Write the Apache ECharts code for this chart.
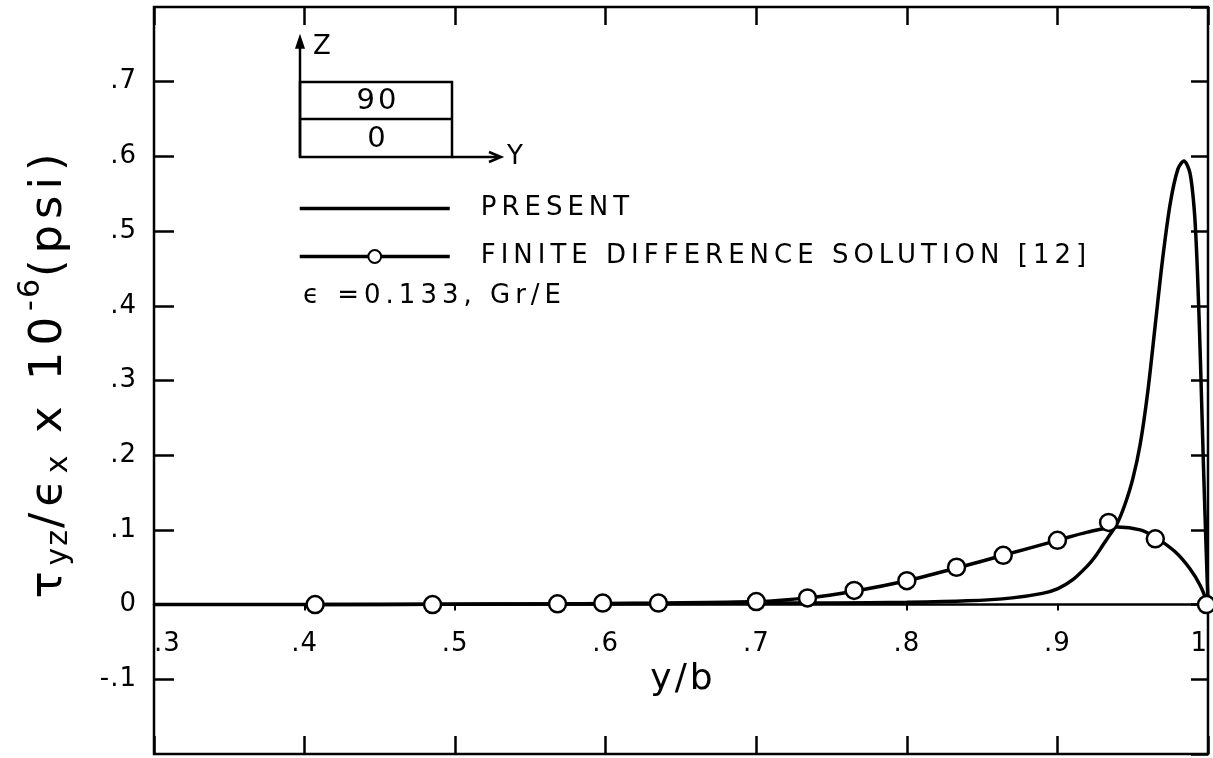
<!DOCTYPE html>
<html>
<head>
<meta charset="utf-8">
<script src="https://cdn.jsdelivr.net/npm/echarts@6/dist/echarts.min.js"></script>
<style>
html,body{margin:0;padding:0;background:#fff;}
#chart{width:1213px;height:758px;}
</style>
</head>
<body>
<div id="chart"></div>
<script>
// ---------------- data ----------------
const presentX = [0.30, 0.50, 0.60, 0.70, 0.75, 0.80, 0.84, 0.87, 0.89, 0.90, 0.91, 0.92, 0.925, 0.93, 0.935, 0.94, 0.945, 0.95, 0.955, 0.96, 0.965, 0.970, 0.975, 0.980, 0.984, 0.988, 0.991, 0.993, 0.995, 0.997, 0.999, 1.000];
const presentY = [0.000, 0.0005, 0.001, 0.002, 0.002, 0.003, 0.005, 0.009, 0.015, 0.021, 0.033, 0.052, 0.064, 0.079, 0.094, 0.110, 0.135, 0.168, 0.215, 0.285, 0.375, 0.465, 0.538, 0.583, 0.594, 0.578, 0.525, 0.445, 0.325, 0.185, 0.060, 0.003];

const fdCurveX = [0.407, 0.485, 0.568, 0.600, 0.635, 0.700, 0.734, 0.765, 0.800, 0.833, 0.864, 0.900, 0.920, 0.940, 0.955, 0.965, 0.978, 0.988, 0.995, 1.000];
const fdCurveY = [0.000, 0.0005, 0.001, 0.0015, 0.002, 0.004, 0.009, 0.018, 0.032, 0.049, 0.066, 0.086, 0.097, 0.104, 0.100, 0.090, 0.071, 0.048, 0.025, 0.000];

const fdX = [0.407, 0.485, 0.568, 0.598, 0.635, 0.700, 0.734, 0.765, 0.800, 0.833, 0.864, 0.900, 0.934, 0.965, 0.999];
const fdY = [0.000, 0.000, 0.001, 0.002, 0.002, 0.004, 0.009, 0.019, 0.032, 0.050, 0.066, 0.086, 0.110, 0.088, 0.000];

const xTickLabels = ['.3', '.4', '.5', '.6', '.7', '.8', '.9', '1'];
const yTickLabels = ['-.2', '-.1', '0', '.1', '.2', '.3', '.4', '.5', '.6', '.7', '.8'];

const seriesNames = ['PRESENT', 'FINITE DIFFERENCE SOLUTION [12]'];
const noteText = '\u03f5 =0.133, Gr/E';
const layerTop = '90';
const layerBottom = '0';

// -------- letter spacing for hand-lettered look (font marker lspN) --------
(function () {
  var P = CanvasRenderingContext2D.prototype;
  var d = Object.getOwnPropertyDescriptor(P, 'font');
  if (!d || !('letterSpacing' in P)) return;
  Object.defineProperty(P, 'font', {
    configurable: true,
    get: function () { return d.get.call(this); },
    set: function (v) {
      d.set.call(this, v);
      var m = /lsp(\d+)/.exec(v);
      this.letterSpacing = m ? m[1] + 'px' : '0px';
    }
  });
})();

const FONT = '"DejaVu Sans", lsp1';
const FONT_SP = '"DejaVu Sans", lsp5';
const FONT_SP3 = '"DejaVu Sans", lsp3';
const INK = '#000';

function zip(a, b) { return a.map((v, i) => [v, b[i]]); }

const chart = echarts.init(document.getElementById('chart'), null, { renderer: 'canvas' });

const xLabelFmt = v => xTickLabels[Math.round((v - 0.3) * 10)] ?? '';
const yLabelFmt = v => yTickLabels[Math.round((v + 0.2) * 10)] ?? '';

const circleStyle = { color: '#fff', borderColor: INK, borderWidth: 2.5, opacity: 1 };

// grid geometry
const G = { left: 154, top: 7, right: 5, bottom: 4 };
const gridH = 758 - G.top - G.bottom;
const yMin = -0.2, yMax = 0.8;
const zeroOffset = -gridH * (0 - yMin) / (yMax - yMin); // move inner axis up to y = 0

const option = {
  backgroundColor: '#fff',
  animation: false,
  grid: {
    left: G.left, top: G.top, right: G.right, bottom: G.bottom,
    outerBoundsMode: 'none', containLabel: false,
    show: true, borderColor: INK, borderWidth: 2.5, backgroundColor: 'transparent'
  },
  legend: {
    data: [{ name: seriesNames[0], itemStyle: { opacity: 0 } }, { name: seriesNames[1] }],
    orient: 'vertical',
    left: 293, top: 188,
    itemWidth: 150, itemHeight: 16, itemGap: 17,
    selectedMode: false,
    lineStyle: { width: 3.5, color: INK },
    textStyle: { fontSize: 26, fontFamily: FONT_SP, color: INK, lineHeight: 30, padding: [0, 0, 0, 26] }
  },
  xAxis: [
    {
      type: 'value', min: 0.3, max: 1.0, interval: 0.1, position: 'bottom', offset: zeroOffset,
      axisLine: { show: true, onZero: false, lineStyle: { color: INK, width: 2.5 } },
      axisTick: { show: true, inside: false, length: 6, lineStyle: { color: INK, width: 2 } },
      axisLabel: {
        formatter: xLabelFmt, fontSize: 26, fontFamily: FONT, color: INK, margin: 26,
        alignMinLabel: 'left', alignMaxLabel: 'right'
      },
      splitLine: { show: false }
    },
    {
      type: 'value', min: 0.3, max: 1.0, interval: 0.1, position: 'top',
      axisLine: { show: false, onZero: false },
      axisTick: { show: true, inside: true, length: 18, lineStyle: { color: INK, width: 2.5 } },
      axisLabel: { show: false }, splitLine: { show: false }
    },
    {
      type: 'value', min: 0.3, max: 1.0, interval: 0.1, position: 'bottom',
      axisLine: { show: false, onZero: false },
      axisTick: { show: true, inside: true, length: 18, lineStyle: { color: INK, width: 2.5 } },
      axisLabel: { show: false }, splitLine: { show: false }
    }
  ],
  yAxis: [
    {
      type: 'value', min: yMin, max: yMax, interval: 0.1, position: 'left',
      axisLine: { show: false, onZero: false },
      axisTick: { show: true, inside: true, length: 20, lineStyle: { color: INK, width: 2.5 } },
      axisLabel: {
        formatter: yLabelFmt, fontSize: 26, fontFamily: FONT, color: INK, margin: 17,
        showMinLabel: false, showMaxLabel: false
      },
      splitLine: { show: false }
    },
    {
      type: 'value', min: yMin, max: yMax, interval: 0.1, position: 'right',
      axisLine: { show: false, onZero: false },
      axisTick: { show: true, inside: true, length: 17, lineStyle: { color: INK, width: 2.5 } },
      axisLabel: { show: false }, splitLine: { show: false }
    }
  ],
  series: [
    {
      name: seriesNames[0], type: 'line', xAxisIndex: 0, yAxisIndex: 0,
      data: zip(presentX, presentY),
      symbol: 'none', smooth: 0.3,
      lineStyle: { color: INK, width: 3.5 }, itemStyle: { color: INK },
      z: 3
    },
    {
      name: seriesNames[1], type: 'line', xAxisIndex: 0, yAxisIndex: 0,
      data: zip(fdCurveX, fdCurveY),
      symbol: 'circle', symbolSize: 15, showSymbol: false, smooth: 0.3,
      lineStyle: { color: INK, width: 3.5 }, itemStyle: circleStyle,
      z: 3
    },
    {
      name: 'fd-points', type: 'scatter', xAxisIndex: 0, yAxisIndex: 0,
      data: zip(fdX, fdY),
      symbol: 'circle', symbolSize: 17,
      itemStyle: circleStyle,
      emphasis: { disabled: true },
      z: 5
    }
  ],
  graphic: [
    // y-axis title
    {
      type: 'text', x: 45, y: 373, rotation: Math.PI / 2,
      style: {
        text: '{m|\u03c4}{s|yz}{m|/\u03f5}{s|x}{m| x 10}{p|-6}{m|(psi)}',
        align: 'center', verticalAlign: 'middle', fill: INK,
        rich: {
          m: { fontSize: 45, fontFamily: '"DejaVu Sans", lsp6', lineHeight: 60, verticalAlign: 'bottom', fill: INK },
          s: { fontSize: 30, fontFamily: '"DejaVu Sans", lsp2', lineHeight: 32, verticalAlign: 'bottom', fill: INK },
          p: { fontSize: 30, fontFamily: '"DejaVu Sans", lsp2', lineHeight: 32, verticalAlign: 'top', fill: INK }
        }
      }
    },
    // x-axis title
    {
      type: 'text', x: 683, y: 680,
      style: { text: 'y/b', fontSize: 36, fontFamily: FONT_SP3, fill: INK, align: 'center', verticalAlign: 'middle' }
    },
    // note
    {
      type: 'text', x: 303, y: 296,
      style: { text: noteText, fontSize: 26, fontFamily: FONT_SP, fill: INK, align: 'left', verticalAlign: 'middle' }
    },
    // inset laminate sketch
    { type: 'rect', shape: { x: 300, y: 82, width: 152, height: 75 }, style: { fill: 'none', stroke: INK, lineWidth: 2.5 } },
    { type: 'line', shape: { x1: 300, y1: 119, x2: 452, y2: 119 }, style: { stroke: INK, lineWidth: 2.5 } },
    { type: 'line', shape: { x1: 300, y1: 157, x2: 300, y2: 44 }, style: { stroke: INK, lineWidth: 2.5 } },
    { type: 'polygon', shape: { points: [[300, 36], [296, 48], [304, 48]] }, style: { fill: INK, stroke: INK, lineWidth: 1.5 } },
    { type: 'line', shape: { x1: 452, y1: 157, x2: 499, y2: 157 }, style: { stroke: INK, lineWidth: 2.5 } },
    { type: 'polyline', shape: { points: [[489, 152], [501, 157], [489, 162]] }, style: { stroke: INK, lineWidth: 2.5, fill: 'none' } },
    { type: 'text', x: 378, y: 101, style: { text: layerTop, fontSize: 29, fontFamily: FONT_SP3, fill: INK, align: 'center', verticalAlign: 'middle' } },
    { type: 'text', x: 378, y: 139, style: { text: layerBottom, fontSize: 29, fontFamily: FONT_SP3, fill: INK, align: 'center', verticalAlign: 'middle' } },
    { type: 'text', x: 313, y: 47, style: { text: 'Z', fontSize: 26, fontFamily: FONT, fill: INK, align: 'left', verticalAlign: 'middle' } },
    { type: 'text', x: 507, y: 157, style: { text: 'Y', fontSize: 26, fontFamily: FONT, fill: INK, align: 'left', verticalAlign: 'middle' } }
  ]
};

chart.setOption(option);
</script>
</body>
</html>
